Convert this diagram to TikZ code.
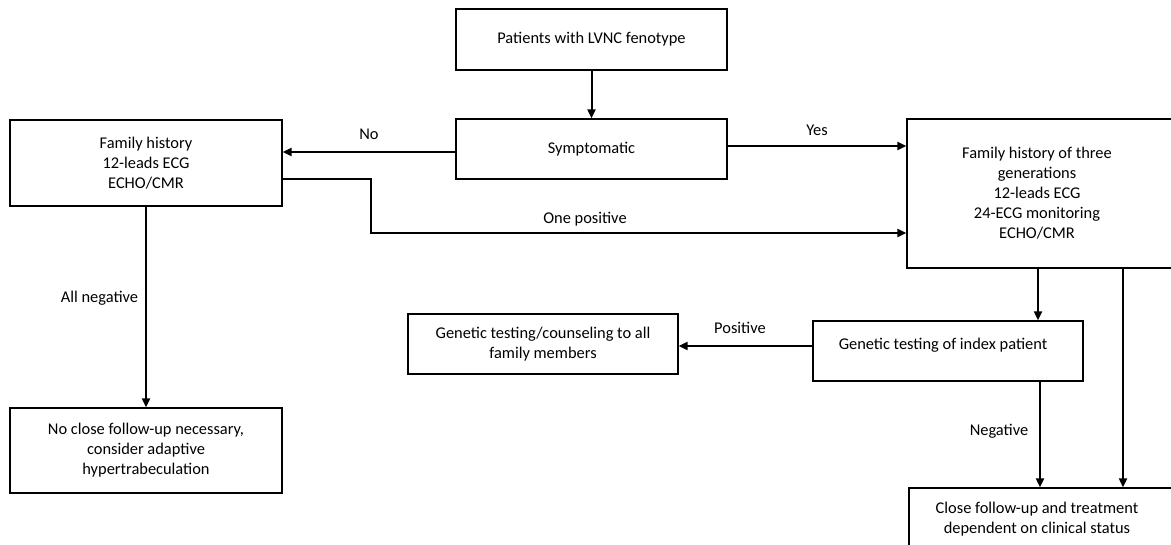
\documentclass[tikz,border=0pt]{standalone}
\usepackage{fontspec}
\setmainfont{Carlito}
\usetikzlibrary{arrows.meta}
\newcommand\figfs{\fontsize{16.4}{20}\selectfont}
\tikzset{
  box/.style={draw, line width=1.3pt, inner sep=0pt, align=center, font=\figfs},
  conn/.style={line width=2pt, -{Triangle[length=9pt,width=8pt]}},
  lbl/.style={font=\figfs, inner sep=0pt, align=center}
}
\begin{document}
\begin{tikzpicture}[x=1pt,y=-1pt]
\useasboundingbox (0,0) rectangle (1171,545);
\clip (0,0) rectangle (1171,545);
\fill[white] (0,0) rectangle (1171,545);

% boxes
\node[box, minimum width=271pt, minimum height=61pt] (pat) at (591.5,39.5) {Patients with LVNC fenotype};
\node[box, minimum width=271pt, minimum height=60pt] (sym) at (591.5,149) {Symptomatic};
\node[box, minimum width=272pt, minimum height=86pt] (fam) at (146,163) {Family history\\12-leads ECG\\ECHO/CMR};
\node[box, minimum width=272pt, minimum height=149pt] (res) at (1043,193.5) {};
\node[lbl] (rest) at (1037,193) {Family history of three\\generations\\12-leads ECG\\24-ECG monitoring\\ECHO/CMR};
\node[box, minimum width=272pt, minimum height=85pt] (nof) at (146,450.5) {No close follow-up necessary,\\consider adaptive\\hypertrabeculation};
\node[box, minimum width=270pt, minimum height=60pt] (gfam) at (543,344) {Genetic testing/counseling to all\\family members};
\node[box, minimum width=270pt, minimum height=60pt] (gidx) at (948,351) {};
\node[lbl] (gidxt) at (943,345) {Genetic testing of index patient};
\node[box, minimum width=272pt, minimum height=62pt] (bres) at (1045,519) {};
\node[lbl] (brest) at (1037,519.5) {Close follow-up and treatment\\dependent on clinical status};

% helper coordinates
\coordinate (yNo) at (0,152);
\coordinate (yYes) at (0,146);
\coordinate (yOP1) at (0,179);
\coordinate (yOP2) at (0,233);
\coordinate (xOP) at (371,0);
\coordinate (yPos) at (0,346);
\coordinate (xA) at (1038,0);
\coordinate (xB) at (1123,0);
\coordinate (xC) at (1040,0);

% connectors
\draw[conn] (pat.south) -- (sym.north);
\draw[conn] (sym.west |- yNo) -- (fam.east |- yNo);
\draw[conn] (sym.east |- yYes) -- (res.west |- yYes);
\draw[conn] (fam.east |- yOP1) -- (xOP |- yOP1) -- (xOP |- yOP2) -- (res.west |- yOP2);
\draw[conn] (fam.south) -- (nof.north);
\draw[conn] (res.south -| xA) -- (gidx.north -| xA);
\draw[conn] (res.south -| xB) -- (bres.north -| xB);
\draw[conn] (gidx.west |- yPos) -- (gfam.east |- yPos);
\draw[conn] (gidx.south -| xC) -- (bres.north -| xC);

% labels
\node[lbl] (lno) at (369,134) {No};
\node[lbl] (lyes) at (817,130) {Yes};
\node[lbl] (lop) at (585,219) {One positive};
\node[lbl] (lall) at (99.5,298) {All negative};
\node[lbl] (lpos) at (740,328) {Positive};
\node[lbl] (lneg) at (999,431) {Negative};
\end{tikzpicture}
\end{document}
